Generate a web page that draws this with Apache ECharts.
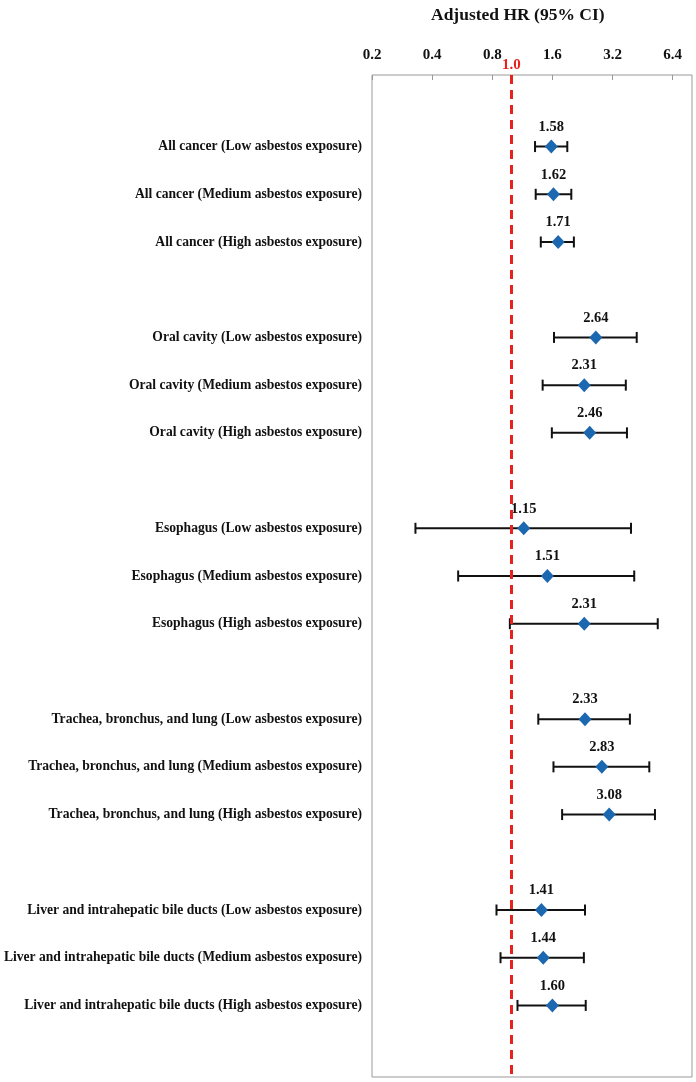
<!DOCTYPE html>
<html>
<head>
<meta charset="utf-8">
<script src="https://cdn.jsdelivr.net/npm/echarts@6/dist/echarts.min.js"></script>
<style>
html,body{margin:0;padding:0;background:#fff;}
#chart{width:696px;height:1082px;}
</style>
</head>
<body>
<div id="chart"></div>
<script>
const rowLabels = [
  'All cancer (Low asbestos exposure)',
  'All cancer (Medium asbestos exposure)',
  'All cancer (High asbestos exposure)',
  'Oral cavity (Low asbestos exposure)',
  'Oral cavity (Medium asbestos exposure)',
  'Oral cavity (High asbestos exposure)',
  'Esophagus (Low asbestos exposure)',
  'Esophagus (Medium asbestos exposure)',
  'Esophagus (High asbestos exposure)',
  'Trachea, bronchus, and lung (Low asbestos exposure)',
  'Trachea, bronchus, and lung (Medium asbestos exposure)',
  'Trachea, bronchus, and lung (High asbestos exposure)',
  'Liver and intrahepatic bile ducts (Low asbestos exposure)',
  'Liver and intrahepatic bile ducts (Medium asbestos exposure)',
  'Liver and intrahepatic bile ducts (High asbestos exposure)'
];
const hr    = [1.58, 1.62, 1.71, 2.64, 2.31, 2.46, 1.15, 1.51, 2.31, 2.33, 2.83, 3.08, 1.41, 1.44, 1.60];
const lower = [1.31, 1.32, 1.40, 1.63, 1.43, 1.59, 0.33, 0.54, 0.98, 1.36, 1.62, 1.79, 0.84, 0.88, 1.07];
const upper = [1.90, 1.99, 2.05, 4.23, 3.73, 3.78, 3.96, 4.11, 5.39, 3.91, 4.89, 5.22, 2.33, 2.30, 2.35];
const tickValues = [0.2, 0.4, 0.8, 1.6, 3.2, 6.4];
const refValue = 1.0;
const axisBase = 0.2;
const axisMax = 8;
const groupSize = 3;

// transform to log2 space relative to axis base so ticks fall on 0.2 * 2^k
const lg = v => Math.log2(v / axisBase);

// category slots: blank, 3 rows, blank, 3 rows, ..., blank
const categories = [];
const slotOf = [];
let blankCount = 0;
categories.push(' '.repeat(++blankCount));
rowLabels.forEach((lab, i) => {
  if (i > 0 && i % groupSize === 0) categories.push(' '.repeat(++blankCount));
  slotOf.push(categories.length);
  categories.push(lab);
});
categories.push(' '.repeat(++blankCount));

const serif = "'Liberation Serif', 'Times New Roman', serif";

const pointData = hr.map((v, i) => [lg(v), slotOf[i], v]);
const ciData = hr.map((v, i) => [slotOf[i], lg(lower[i]), lg(upper[i])]);

const chart = echarts.init(document.getElementById('chart'));
chart.setOption({
  animation: false,
  title: {
    text: 'Adjusted HR (95% CI)',
    left: 426, top: 1,
    textStyle: { fontFamily: serif, fontWeight: 'bold', fontSize: 17.5, color: '#111' }
  },
  grid: {
    left: 372, right: 4, top: 75, bottom: 5,
    show: true, borderColor: '#999', borderWidth: 1, containLabel: false
  },
  xAxis: {
    type: 'value',
    position: 'top',
    min: 0,
    max: lg(axisMax),
    interval: 1,
    axisLine: { show: false },
    splitLine: { show: false },
    axisTick: { show: true, inside: true, length: 5, lineStyle: { color: '#999' } },
    axisLabel: {
      margin: 12,
      showMaxLabel: false,
      fontFamily: serif, fontWeight: 'bold', fontSize: 15, color: '#111',
      formatter: function (val) {
        const k = Math.round(val);
        if (Math.abs(val - k) > 1e-6) return '';
        const t = tickValues[k];
        return t === undefined ? '' : t.toFixed(1);
      }
    }
  },
  yAxis: {
    type: 'category',
    inverse: true,
    data: categories,
    axisLine: { show: false },
    axisTick: { show: false },
    splitLine: { show: false },
    axisLabel: {
      margin: 10,
      fontFamily: serif, fontWeight: 'bold', fontSize: 13.6, color: '#111'
    }
  },
  series: [
    {
      type: 'custom',
      z: 3,
      data: ciData,
      encode: { y: 0, x: [1, 2] },
      renderItem: function (params, api) {
        const y = api.value(0);
        const p1 = api.coord([api.value(1), y]);
        const p2 = api.coord([api.value(2), y]);
        const h = 5.5;
        const style = { stroke: '#111', lineWidth: 2 };
        return {
          type: 'group',
          children: [
            { type: 'line', shape: { x1: p1[0], y1: p1[1], x2: p2[0], y2: p2[1] }, style: style },
            { type: 'line', shape: { x1: p1[0], y1: p1[1] - h, x2: p1[0], y2: p1[1] + h }, style: style },
            { type: 'line', shape: { x1: p2[0], y1: p2[1] - h, x2: p2[0], y2: p2[1] + h }, style: style }
          ]
        };
      }
    },
    {
      type: 'scatter',
      z: 4,
      data: pointData,
      symbol: 'diamond',
      symbolSize: [13, 14],
      itemStyle: { color: '#1C68B0', opacity: 1 },
      label: {
        show: true,
        position: 'top',
        distance: 5,
        fontFamily: serif, fontWeight: 'bold', fontSize: 14.5, color: '#111',
        formatter: p => p.value[2].toFixed(2)
      },
      markLine: {
        silent: true,
        symbol: 'none',
        lineStyle: { color: '#E8201E', type: [9, 6], width: 3, opacity: 1 },
        label: {
          show: true,
          position: 'start',
          distance: 2,
          formatter: refValue.toFixed(1),
          fontFamily: serif, fontWeight: 'bold', fontSize: 15, color: '#E8201E'
        },
        data: [{ xAxis: lg(refValue) }]
      }
    }
  ]
});
</script>
</body>
</html>
